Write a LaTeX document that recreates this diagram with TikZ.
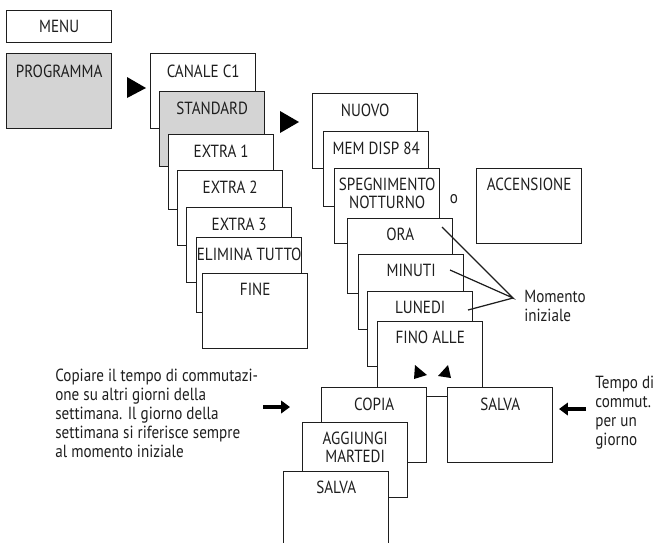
\documentclass[tikz,border=0pt]{standalone}
\usepackage{xcolor}
\usepackage{fontspec}
\setmainfont{PT Sans}[FakeStretch=0.86]
\usetikzlibrary{arrows.meta,calc,positioning}
\definecolor{menugray}{RGB}{212,212,212}
\definecolor{inkgray}{RGB}{30,30,30}

\begin{document}
\begin{tikzpicture}[x=0.02cm,y=-0.02cm]
			\tikzstyle{every node}=[font=\fontsize{10}{10.8}\selectfont, text=inkgray]
			\tikzstyle{menubox}=[draw=inkgray, line width=0.8pt, fill=white, minimum width=2.1cm, minimum height=1.5cm, inner sep=0pt, anchor=north west]
			\tikzstyle{graybox}=[menubox, fill=menugray]
			\tikzstyle{lbl}=[inner sep=0pt, anchor=north, align=center, font=\fontsize{10}{10.2}\selectfont]
			\tikzstyle{txt}=[inner sep=0pt, anchor=north west, align=left]
			\tikzstyle{pick}=[fill=black, draw=none]
			\tikzstyle{fatarrow}=[line width=2.3pt, -{Triangle[length=5pt,width=7pt]}, black]
			\useasboundingbox (0,0) rectangle (655,542);
			% menu
			\node [menubox, minimum height=0.64cm] (menu) at (6,10) {};
			\node [lbl, anchor=center] (menu-t) at (menu.center) {MENU};
			\node [graybox] (prog) at (6,53) {};
			\node [lbl] (prog-t) at ([yshift=-0.24cm]prog.north) {PROGRAMMA};
			\fill [pick] (127,77) -- (146,88) -- (127,98) -- cycle;
			% channels
			\node [menubox] (canale) at (150,53) {};
			\node [lbl] (canale-t) at ([yshift=-0.24cm]canale.north) {CANALE C1};
			\node [graybox] (standard) at (159,91) {};
			\node [lbl] (standard-t) at ([yshift=-0.22cm]standard.north) {STANDARD};
			\node [menubox] (extra1) at (168,134) {};
			\node [lbl] (extra1-t) at ([yshift=-0.22cm]extra1.north) {EXTRA 1};
			\node [menubox] (extra2) at (177,170) {};
			\node [lbl] (extra2-t) at ([yshift=-0.22cm]extra2.north) {EXTRA 2};
			\node [menubox] (extra3) at (186,207) {};
			\node [lbl] (extra3-t) at ([yshift=-0.22cm]extra3.north) {EXTRA 3};
			\node [menubox] (elimina) at (196,237) {};
			\node [lbl] (elimina-t) at ([yshift=-0.22cm]elimina.north) {ELIMINA TUTTO};
			\node [menubox] (fine) at (202,273) {};
			\node [lbl] (fine-t) at ([yshift=-0.2cm]fine.north) {FINE};
			\fill [pick] (280,111) -- (299,122) -- (280,133) -- cycle;
			% program steps
			\node [menubox] (nuovo) at (312,93) {};
			\node [lbl] (nuovo-t) at ([yshift=-0.22cm]nuovo.north) {NUOVO};
			\node [menubox] (memdisp) at (323,131) {};
			\node [lbl] (memdisp-t) at ([yshift=-0.22cm]memdisp.north) {MEM DISP 84};
			\node [menubox] (spegn) at (334,168) {};
			\node [lbl] (spegn-t) at ([yshift=-0.2cm]spegn.north) {SPEGNIMENTO\\NOTTURNO};
			\node [inner sep=0pt, anchor=base] (oppure) at (454,203) {o};
			\node [menubox] (accens) at (476,168) {};
			\node [lbl] (accens-t) at ([yshift=-0.2cm]accens.north) {ACCENSIONE};
			\node [menubox] (ora) at (347,218) {};
			\node [lbl] (ora-t) at ([yshift=-0.2cm]ora.north) {ORA};
			\node [menubox] (minuti) at (358,254) {};
			\node [lbl] (minuti-t) at ([yshift=-0.2cm]minuti.north) {MINUTI};
			\node [menubox] (lunedi) at (367,291) {};
			\node [lbl] (lunedi-t) at ([yshift=-0.2cm]lunedi.north) {LUNEDI};
			\node [menubox] (fino) at (377,321) {};
			\node [lbl] (fino-t) at ([yshift=-0.2cm]fino.north) {FINO ALLE};
			\fill [pick] (415,365) -- (427,375) -- (414,379) -- cycle;
			\fill [pick] (448,365) -- (451,378) -- (438,376) -- cycle;
			% leader lines
			\coordinate (mom) at (513,298);
			\coordinate (ora-p) at (442,227);
			\coordinate (minuti-p) at (450,270);
			\coordinate (lunedi-p) at (468,310);
			\draw [line width=0.7pt, inkgray] (ora-p) -- (mom) -- (minuti-p);
			\draw [line width=0.7pt, inkgray] (lunedi-p) -- (mom);
			\node [txt] (mom-t) at (524,290) {Momento\\iniziale};
			% copy and save
			\node [menubox] (copia) at (321,387) {};
			\node [lbl] (copia-t) at ([yshift=-0.22cm]copia.north) {COPIA};
			\node [menubox] (salvar) at (447,387) {};
			\node [lbl] (salvar-t) at ([yshift=-0.22cm]salvar.north) {SALVA};
			\node [menubox] (aggiungi) at (302,422) {};
			\node [lbl] (aggiungi-t) at ([yshift=-0.2cm]aggiungi.north) {AGGIUNGI\\MARTEDI};
			\node [menubox] (salval) at (283,471) {};
			\node [lbl] (salval-t) at ([yshift=-0.2cm]salval.north) {SALVA};
			% notes
			\node [txt] (copy-t) at (55,369) {Copiare il tempo di commutazi-\\one su altri giorni della\\settimana. Il giorno della\\settimana si riferisce sempre\\al momento iniziale};
			\coordinate (copy-s) at (263,407);
			\coordinate (copy-e) at (290,407);
			\draw [fatarrow] (copy-s) -- (copy-e);
			\node [txt] (tempo-t) at (595,376) {Tempo di\\commut.\\per un\\giorno};
			\coordinate (tempo-s) at (586,409);
			\coordinate (tempo-e) at (559,409);
			\draw [fatarrow] (tempo-s) -- (tempo-e);
		\end{tikzpicture}
\end{document}
